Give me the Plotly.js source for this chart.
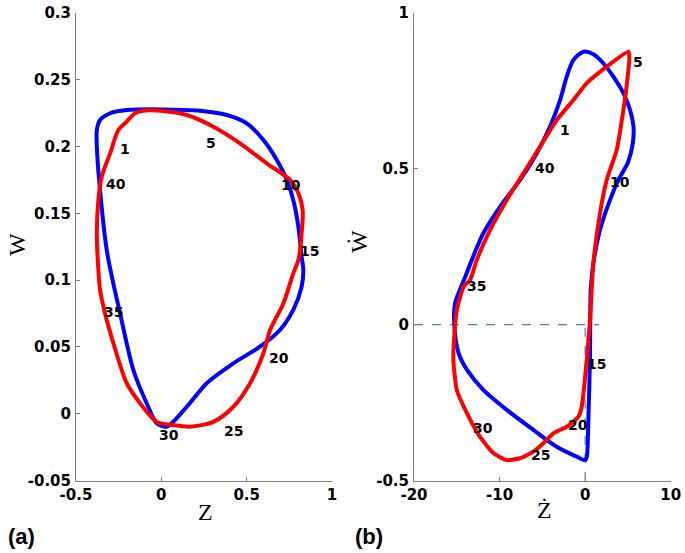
<!DOCTYPE html>
<html>
<head>
<meta charset="utf-8">
<script src="https://cdn.plot.ly/plotly-3.0.1.min.js"></script>
<style>html,body{margin:0;padding:0;background:#fff;}#chart{width:685px;height:553px;}</style>
</head>
<body>
<div id="chart"></div>
<script>
// Panel (a): W versus Z
const blueZ = [-0.378,-0.359,-0.30,-0.203,0,0.227,0.383,0.5,0.598,0.676,0.735,0.773,0.803,0.822,0.832,0.822,0.773,0.695,0.578,0.422,0.266,0.149,0.032,-0.027,-0.086,-0.164,-0.242,-0.29,-0.32,-0.359,-0.378,-0.378];
const blueW = [0.2123,0.2198,0.2248,0.2272,0.2277,0.2267,0.2235,0.2173,0.2048,0.19,0.175,0.16,0.14,0.1175,0.1076,0.095,0.0777,0.0627,0.0502,0.0378,0.0229,0.0053,-0.0096,-0.007,0.0079,0.0328,0.0752,0.1026,0.1225,0.167,0.2,0.2123];
const redZ = [-0.252,-0.203,-0.154,-0.08,0,0.149,0.305,0.461,0.617,0.754,0.803,0.828,0.822,0.803,0.773,0.715,0.637,0.598,0.52,0.422,0.305,0.168,0.07,-0.027,-0.125,-0.203,-0.281,-0.33,-0.359,-0.369,-0.378,-0.369,-0.349,-0.30,-0.252];
const redW = [0.2123,0.2185,0.2248,0.227,0.2267,0.2235,0.2147,0.2023,0.1874,0.1749,0.165,0.1524,0.135,0.115,0.105,0.0826,0.0627,0.0453,0.0229,0.0053,-0.006,-0.0096,-0.0084,-0.006,0.0079,0.0229,0.0528,0.0752,0.0926,0.1076,0.135,0.16,0.1774,0.1948,0.2123];
const labelsA = ["1","5","40","10","15","35","20","30","25"];
const labelsAZ = [-0.213,0.291,-0.265,0.76,0.871,-0.283,0.69,0.045,0.42];
const labelsAW = [0.198,0.2026,0.1717,0.171,0.122,0.0762,0.0417,-0.016,-0.013];

// Panel (b): W-dot versus Z-dot
const blueZd = [-0.2,-1.38,-2.15,-2.93,-4.1,-5.66,-7.6,-9.95,-11.9,-13.25,-14.0,-15.2,-15.3,-14.8,-13.8,-11.9,-9.16,-6.05,-3.32,-0.98,0.0,0.19,0.38,0.57,0.6,0.65,0.96,1.74,2.91,3.87,5.0,5.56,5.65,5.25,4.47,3.3,2.13,0.96,-0.2];
const blueWd = [0.875,0.848,0.795,0.72,0.635,0.549,0.464,0.378,0.293,0.207,0.154,0.069,0.004,-0.09,-0.145,-0.209,-0.273,-0.337,-0.391,-0.423,-0.434,-0.423,-0.305,-0.092,0.017,0.111,0.197,0.304,0.40,0.463,0.52,0.58,0.635,0.688,0.742,0.795,0.838,0.867,0.875];
const redZd = [5.05,2.52,0.19,-1.38,-3.32,-5.27,-7.22,-9.16,-11.1,-12.67,-13.45,-14.2,-15.0,-15.3,-15.4,-15.0,-13.8,-12.3,-10.7,-9.16,-7.6,-6.05,-4.88,-3.71,-2.15,-0.79,-0.4,0.19,0.57,0.96,1.74,2.52,3.69,4.47,4.93,5.17,5.05];
const redWd = [0.875,0.827,0.774,0.72,0.656,0.571,0.485,0.4,0.304,0.207,0.143,0.122,0.047,-0.038,-0.113,-0.209,-0.284,-0.359,-0.412,-0.434,-0.428,-0.407,-0.38,-0.348,-0.327,-0.295,-0.263,-0.113,0.015,0.197,0.358,0.464,0.56,0.688,0.784,0.859,0.875];
const labelsB = ["5","1","40","10","35","15","30","20","25"];
const labelsBZd = [6.18,-2.35,-4.69,4.08,-12.64,1.38,-11.9,-0.83,-5.16];
const labelsBWd = [0.842,0.624,0.502,0.457,0.124,-0.126,-0.331,-0.321,-0.418];

// Tick labels
const tickA_x = [-0.5,0,0.5,1];
const tickA_xText = ["-0.5","0","0.5","1"];
const tickA_y = [-0.05,0,0.05,0.1,0.15,0.2,0.25,0.3];
const tickA_yText = ["-0.05","0","0.05","0.1","0.15","0.2","0.25","0.3"];
const tickB_x = [-20,-10,0,10];
const tickB_xText = ["-20","-10","0","10"];
const tickB_y = [-0.5,0,0.5,1];
const tickB_yText = ["-0.5","0","0.5","1"];

const RED = "#ff0000", BLUE = "#0000ff";
const lineStyle = (c) => ({color: c, width: 4, shape: "spline", smoothing: 0.8});

const traces = [
  {x: blueZ, y: blueW, mode: "lines", line: lineStyle(BLUE), xaxis: "x", yaxis: "y"},
  {x: redZ, y: redW, mode: "lines", line: lineStyle(RED), xaxis: "x", yaxis: "y"},
  {x: blueZd, y: blueWd, mode: "lines", line: lineStyle(BLUE), xaxis: "x2", yaxis: "y2"},
  {x: redZd, y: redWd, mode: "lines", line: {color: RED, width: 4, shape: "spline", smoothing: 0.5}, xaxis: "x2", yaxis: "y2"}
];

const tickFont = {family: "DejaVu Sans, sans-serif", size: 15, color: "#000", weight: "bold"};
const axBase = {showline: true, linecolor: "#808080", linewidth: 1, ticks: "inside", ticklen: 4, tickcolor: "#808080",
  showgrid: false, zeroline: false, tickfont: tickFont, tickmode: "array", fixedrange: true};

const ann = [];
const numFont = {family: "DejaVu Sans, sans-serif", size: 14, color: "#000", weight: "bold"};
labelsA.forEach((t,i) => ann.push({x: labelsAZ[i], y: labelsAW[i], xref: "x", yref: "y", text: t, showarrow: false, font: numFont}));
labelsB.forEach((t,i) => ann.push({x: labelsBZd[i], y: labelsBWd[i], xref: "x2", yref: "y2", text: t, showarrow: false, font: numFont}));
const serif = {family: "Liberation Serif, Times New Roman, serif", size: 24, color: "#000"};
ann.push({xref: "paper", yref: "paper", x: 17/685, y: 1-245/553, text: "W", textangle: -90, showarrow: false, font: serif, xanchor: "center", yanchor: "middle"});
ann.push({xref: "paper", yref: "paper", x: 205/685, y: 1-512/553, text: "Z", showarrow: false, font: serif, xanchor: "center", yanchor: "middle"});
ann.push({xref: "paper", yref: "paper", x: 359/685, y: 1-242/553, text: "\u1E86", textangle: -90, showarrow: false, font: serif, xanchor: "center", yanchor: "middle"});
ann.push({xref: "paper", yref: "paper", x: 544/685, y: 1-510/553, text: "\u017B", showarrow: false, font: serif, xanchor: "center", yanchor: "middle"});
const panelFont = {family: "Liberation Sans, Arial, sans-serif", size: 22, color: "#000", weight: "bold"};
ann.push({xref: "paper", yref: "paper", x: 21/685, y: 1-536/553, text: "(a)", showarrow: false, font: panelFont, xanchor: "center", yanchor: "middle"});
ann.push({xref: "paper", yref: "paper", x: 369/685, y: 1-536/553, text: "(b)", showarrow: false, font: panelFont, xanchor: "center", yanchor: "middle"});

const layout = {
  width: 685, height: 553, margin: {l: 0, r: 0, t: 0, b: 0},
  paper_bgcolor: "#fff", plot_bgcolor: "rgba(0,0,0,0)", showlegend: false,
  xaxis: Object.assign({}, axBase, {domain: [76/685, 332/685], range: [-0.5, 1], tickvals: tickA_x, ticktext: tickA_xText, anchor: "y"}),
  yaxis: Object.assign({}, axBase, {domain: [1-480.7/553, 1-12.7/553], range: [-0.05, 0.3], tickvals: tickA_y, ticktext: tickA_yText, anchor: "x", ticklabelstandoff: 1}),
  xaxis2: Object.assign({}, axBase, {domain: [414/685, 670.7/685], range: [-20, 10], tickvals: tickB_x, ticktext: tickB_xText, anchor: "y2"}),
  yaxis2: Object.assign({}, axBase, {domain: [1-480.7/553, 1-12.7/553], range: [-0.5, 1], tickvals: tickB_y, ticktext: tickB_yText, anchor: "x2", ticklabelstandoff: 1}),
  shapes: [
    {type: "line", xref: "x2", yref: "y2", x0: -20, x1: 1.66, y0: 0, y1: 0, line: {color: "#4a7fc0", width: 1.2, dash: "dash"}, layer: "below"},
    {type: "line", xref: "x2", yref: "y2", x0: 0, x1: 0, y0: -0.5, y1: 0, line: {color: "#4a7fc0", width: 1.2, dash: "dash"}, layer: "below"}
  ],
  annotations: ann
};

Plotly.newPlot("chart", traces, layout, {displayModeBar: false, staticPlot: true});
</script>
</body>
</html>
